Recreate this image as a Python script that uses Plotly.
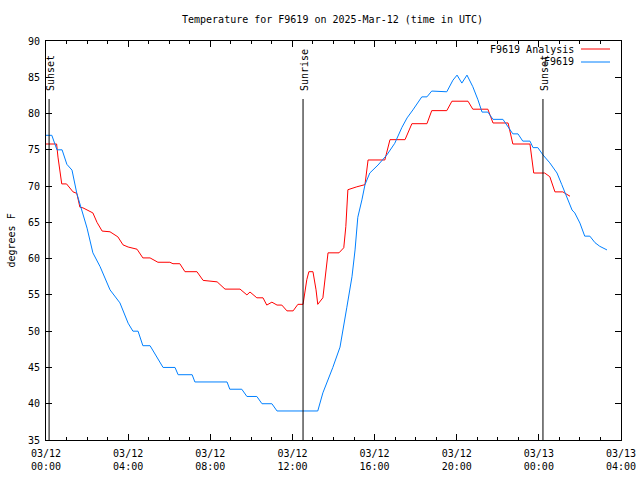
import plotly.graph_objects as go

day = "2025-03-12"
nxt = "2025-03-13"

obs_times = ["00:00","00:17","00:32","00:47","01:01","01:16","01:30","01:45","02:00","02:17","02:38","03:07","03:36","04:00",
             "04:14","04:29","04:43","05:04","05:42","06:17","06:26","07:07","07:15","08:49","08:57","09:32","09:47","10:16",
             "10:31","11:00","11:15","13:14","13:29","13:58","14:19","14:39","14:54","15:03","15:11","15:23","15:32","15:46",
             "16:10","16:36","16:59","17:20","17:35","17:52","18:18","18:33","18:47","19:31","19:49","20:01","20:15","20:30",
             "20:47","21:02","21:14","21:31","21:46","22:15","22:30","22:44","22:59","23:13","23:34","23:43","23:57",
             "+00:12","+00:32","+00:53","+01:07","+01:22","+01:37","+01:45","+02:00","+02:14","+02:29","+02:44","+02:58","+03:19"]
obs_vals = [77,77,75,75,73,72.2,69,66.7,64.2,60.8,58.9,55.7,53.9,51.1,
            50,50,48,48,45,45,44,44,43,43,42,42,41,41,
            40,40,39,39,41.5,45,47.8,53.3,57.5,61.2,65.7,68.1,70.2,71.8,
            72.9,74.3,75.9,78.1,79.4,80.5,82.3,82.3,83.1,83,84.6,85.3,84.2,85.3,
            83.7,81.9,80.2,80.2,79.2,79.2,78.1,77.2,77.2,76.2,76.2,75.3,75.3,
            74.3,73.2,71.8,70.2,68.5,66.7,66.3,64.9,63.1,63.1,62.2,61.7,61.2]

ana_times = ["00:00","00:31","00:35","00:41","00:46","01:00","01:19","01:30","01:39","01:48","02:17","02:29","02:44","03:07",
             "03:30","03:45","04:00","04:26","04:43","05:04","05:27","06:02","06:11","06:31","06:46","07:21","07:39","08:20",
             "08:43","09:27","09:47","09:56","10:16","10:34","10:45","11:00","11:15","11:29","11:44","12:02","12:16","12:31",
             "12:42","12:48","13:00","13:09","13:14","13:29","13:35","13:44","14:16","14:30","14:36","14:42","15:08","15:32",
             "15:41","16:30","16:45","17:29","17:49","18:33","18:47","19:31","19:46","20:33","20:47","21:31","21:46","22:30",
             "22:44","23:34","23:45","+00:17","+00:32","+00:47","+01:10","+01:31"]
ana_vals = [75.8,75.8,74,71.8,70.3,70.3,69.2,69,67.1,67,66.3,65,63.8,63.7,
            63,61.9,61.6,61.3,60.1,60.1,59.5,59.5,59.3,59.3,58.2,58.2,57,56.8,
            55.8,55.8,55,55.4,54.6,54.6,53.6,54,53.6,53.6,52.8,52.8,53.7,53.7,
            57.1,58.2,58.2,55.7,53.7,54.6,57.5,60.8,60.8,61.5,64.4,69.5,69.9,70.2,
            73.6,73.6,76.4,76.4,78.6,78.6,80.4,80.4,81.7,81.7,80.6,80.6,78.7,78.7,
            75.8,75.8,71.8,71.8,71.3,69.2,69.2,68.6]

event_times = ["00:09", "12:31", "+00:12"]
event_labels = ["Sunset", "Sunrise", "Sunset"]

tick_times = ["00:00", "04:00", "08:00", "12:00", "16:00", "20:00", "+00:00", "+04:00"]
tick_text = ["03/12<br>00:00", "03/12<br>04:00", "03/12<br>08:00", "03/12<br>12:00",
             "03/12<br>16:00", "03/12<br>20:00", "03/13<br>00:00", "03/13<br>04:00"]

def ts(t):
    if t.startswith("+"):
        return f"{nxt} {t[1:]}:00"
    return f"{day} {t}:00"

FONT = "DejaVu Sans Mono"
W, H = 640, 480
PW, PH = 575, 399  # plot area in pixels

fig = go.Figure()
fig.add_trace(go.Scatter(x=[ts(t) for t in ana_times], y=ana_vals, mode="lines",
                         line=dict(color="#ff0000", width=1), name="F9619 Analysis"))
fig.add_trace(go.Scatter(x=[ts(t) for t in obs_times], y=obs_vals, mode="lines",
                         line=dict(color="#0080ff", width=1), name="F9619"))

for t, lab in zip(event_times, event_labels):
    fig.add_shape(type="line", x0=ts(t), x1=ts(t), xref="x", yref="paper", y0=0, y1=(440 - 99) / PH,
                  line=dict(color="black", width=1))
    fig.add_annotation(x=ts(t), xref="x", yref="paper", y=(440 - 93) / PH, yanchor="bottom", text=lab,
                       textangle=-90, showarrow=False, xshift=1,
                       font=dict(family=FONT, size=10, color="black"))

# gnuplot-style legend (text right-aligned, sample line to the right)
for i, (name, col) in enumerate([("F9619 Analysis", "#ff0000"), ("F9619", "#0080ff")]):
    yp = 1 - (8 + 13 * i) / PH
    fig.add_annotation(x=(576 - 46) / PW, y=yp, xref="paper", yref="paper", xanchor="right",
                       yanchor="middle", text=name, showarrow=False,
                       font=dict(family=FONT, size=10, color="black"))
    fig.add_shape(type="line", xref="paper", yref="paper", x0=(581 - 46) / PW, x1=(610 - 46) / PW,
                  y0=yp, y1=yp, line=dict(color=col, width=1))

fig.add_annotation(text="degrees F", textangle=-90, xref="paper", yref="paper",
                   x=(11 - 46) / PW, xanchor="center", y=0.5, yanchor="middle", showarrow=False,
                   font=dict(family=FONT, size=10, color="black"))

fig.update_layout(
    width=W, height=H,
    margin=dict(l=46, r=19, t=41, b=40, autoexpand=False),
    paper_bgcolor="white", plot_bgcolor="white",
    showlegend=False,
    title=dict(text="Temperature for F9619 on 2025-Mar-12 (time in UTC)", x=332.5 / W,
               xanchor="center", y=1 - 19 / H, yanchor="middle",
               font=dict(family=FONT, size=10, color="black")),
    font=dict(family=FONT, size=10, color="black"),
)
fig.update_xaxes(
    type="date", range=[ts("00:00"), ts("+04:00")], automargin=False,
    tickmode="array", tickvals=[ts(t) for t in tick_times], ticktext=tick_text,
    ticks="inside", ticklen=6, tickcolor="black", showgrid=False, zeroline=False,
    showline=True, linecolor="black", linewidth=1, mirror="ticks", ticklabelstandoff=4,
    ticklabeloverflow="allow",
    minor=dict(ticks="inside", ticklen=3, dtick=3600000, tick0=ts("00:00"), tickcolor="black", showgrid=False),
    tickfont=dict(family=FONT, size=10, color="black"),
)
fig.update_yaxes(
    range=[35, 90], tickmode="array", tickvals=list(range(35, 91, 5)), automargin=False,
    ticks="inside", ticklen=6, tickcolor="black", showgrid=False, zeroline=False,
    showline=True, linecolor="black", linewidth=1, mirror="ticks", ticklabelstandoff=3,
    tickfont=dict(family=FONT, size=10, color="black"),
)

fig.write_html("out.html", config={"displayModeBar": False, "staticPlot": True},
               post_script="document.body.style.margin='0';document.body.style.overflow='hidden';")
